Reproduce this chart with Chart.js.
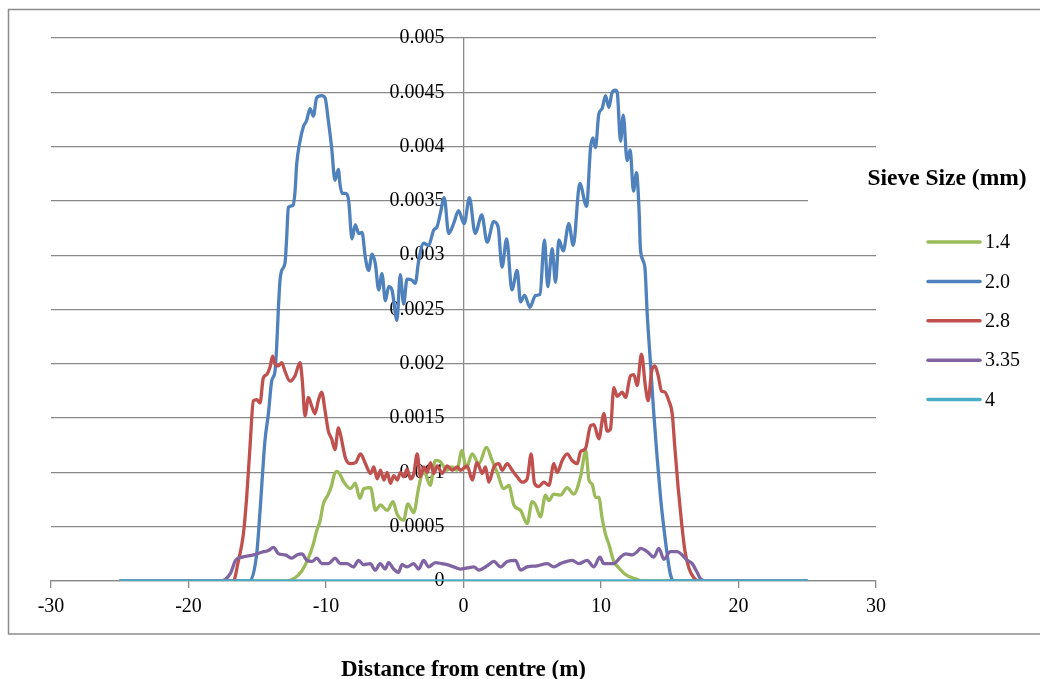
<!DOCTYPE html>
<html>
<head>
<meta charset="utf-8">
<script src="https://cdn.jsdelivr.net/npm/chart.js@4.4.1/dist/chart.umd.min.js"></script>
<style>
  html, body { margin: 0; padding: 0; background: #fff; }
  #wrap { width: 1040px; height: 679px; }
</style>
</head>
<body>
<div id="wrap"><canvas id="grafico" width="1040" height="679"></canvas></div>
<script>
// Séries (distância em m, fração)
const nomes = ['1.4', '2.0', '2.8', '3.35', '4'];
const cores = ['#9bbb59', '#4f81bd', '#c0504d', '#8064a2', '#4bacc6'];
const tituloLegenda = 'Sieve Size (mm)';
const tituloX = 'Distance from centre (m)';
const xTicks = [-30, -20, -10, 0, 10, 20, 30];
const yTicks = ['0', '0.0005', '0.001', '0.0015', '0.002', '0.0025', '0.003', '0.0035', '0.004', '0.0045', '0.005'];

// 1.4 mm
const d14 = [-25, -20, -12.86, -12.25, -11.77, -11.28, -10.92, -10.68, -10.44, -10.19,
  -9.83, -9.59, -9.4, -9.19, -8.98, -8.7, -8.22, -7.87, -7.54, -7.25,
  -6.76, -6.4, -6.04, -5.55, -5.12, -4.84, -4.35, -4.05, -3.62, -3.26,
  -2.9, -2.42, -2.05, -1.69, -1.21, -0.85, -0.48, -0.12, 0.2, 0.63,
  1.12, 1.67, 2.08, 2.45, 2.93, 3.3, 3.66, 4.15, 4.63, 4.99,
  5.24, 5.6, 5.96, 6.21, 6.57, 7.05, 7.54, 8.02, 8.51, 8.9,
  9.12, 9.36, 9.6, 9.84, 10.08, 10.33, 10.57, 10.93, 11.3, 11.78,
  12.51, 13, 20, 25];
const v14 = [0, 0, 0, 0.00003, 0.00009, 0.00021, 0.00034, 0.00046, 0.00055, 0.00071,
  0.0008, 0.00088, 0.00098, 0.00101, 0.00098, 0.00091, 0.00085, 0.0009, 0.00076, 0.00085,
  0.00086, 0.00065, 0.0007, 0.00065, 0.00073, 0.00062, 0.00056, 0.00071, 0.00063, 0.00086,
  0.00102, 0.00088, 0.00111, 0.0011, 0.00102, 0.00105, 0.00102, 0.0012, 0.00104, 0.00117,
  0.00108, 0.00123, 0.00111, 0.001, 0.00085, 0.00088, 0.0007, 0.00065, 0.00053, 0.00073,
  0.0007, 0.00059, 0.00079, 0.00074, 0.0008, 0.00079, 0.00086, 0.0008, 0.00096, 0.0012,
  0.00093, 0.00089, 0.00077, 0.00077, 0.00058, 0.00043, 0.00034, 0.00018, 0.00012, 0.00006,
  0.00002, 0, 0, 0];

// 2.0 mm
const d20 = [-25, -20, -15.55, -15.04, -14.8, -14.44, -14.19, -13.95, -13.71, -13.59,
  -13.47, -13.35, -13.22, -12.98, -12.86, -12.74, -12.38, -12.25, -12.13, -11.89,
  -11.65, -11.41, -11.16, -10.92, -10.68, -10.32, -10.07, -9.83, -9.59, -9.35,
  -9.1, -8.98, -8.83, -8.59, -8.35, -8.11, -7.87, -7.62, -7.38, -7.14,
  -6.9, -6.65, -6.41, -6.17, -5.93, -5.68, -5.44, -5.2, -4.84, -4.6,
  -4.35, -4.11, -3.75, -3.51, -3.26, -2.9, -2.54, -2.17, -1.93, -1.69,
  -1.4, -1.08, -0.72, -0.36, 0.05, 0.43, 0.85, 1.33, 1.72, 2.2,
  2.52, 2.8, 3.14, 3.52, 3.9, 4.15, 4.44, 4.83, 5.24, 5.56,
  5.89, 6.13, 6.45, 6.69, 6.94, 7.25, 7.66, 7.98, 8.46, 8.95,
  9.24, 9.41, 9.6, 9.84, 10.08, 10.33, 10.57, 10.81, 11.05, 11.18,
  11.42, 11.62, 11.9, 12.12, 12.36, 12.58, 12.77, 12.87, 13.19, 13.36,
  13.6, 13.84, 14.08, 14.33, 14.57, 14.81, 15.05, 15.3, 20, 25];
const v20 = [0, 0, 0, 0.00025, 0.00064, 0.00129, 0.00154, 0.00184, 0.00193, 0.00215,
  0.00249, 0.00276, 0.00286, 0.00293, 0.00316, 0.00344, 0.00346, 0.00359, 0.00384, 0.00405,
  0.00418, 0.00424, 0.00435, 0.00428, 0.00445, 0.00447, 0.00445, 0.00424, 0.00399, 0.00369,
  0.00379, 0.00365, 0.00357, 0.00357, 0.0035, 0.00315, 0.00328, 0.0032, 0.00321, 0.00298,
  0.00286, 0.00301, 0.00292, 0.00268, 0.00283, 0.00258, 0.00271, 0.00268, 0.0024, 0.00282,
  0.00255, 0.00278, 0.00277, 0.00274, 0.00295, 0.00311, 0.00309, 0.00323, 0.00326, 0.00338,
  0.00353, 0.0032, 0.00329, 0.00341, 0.00329, 0.00353, 0.0032, 0.00337, 0.00312, 0.00331,
  0.00326, 0.00289, 0.00315, 0.00268, 0.00286, 0.00257, 0.00263, 0.00252, 0.00263, 0.00264,
  0.00314, 0.00271, 0.00306, 0.00275, 0.00314, 0.00304, 0.00329, 0.00309, 0.00366, 0.00345,
  0.00399, 0.00408, 0.00399, 0.0043, 0.00435, 0.00447, 0.00436, 0.0045, 0.00452, 0.0045,
  0.00405, 0.00429, 0.00387, 0.00397, 0.00359, 0.00376, 0.00341, 0.00305, 0.00289, 0.00246,
  0.002, 0.00154, 0.00114, 0.00077, 0.00049, 0.00025, 0.00006, 0, 0, 0];

// 2.8 mm
const d28 = [-25, -20, -16.74, -16.38, -16.01, -15.77, -15.53, -15.28, -15.04, -14.8,
  -14.56, -14.32, -14.07, -13.88, -13.71, -13.47, -13.22, -12.98, -12.62, -12.25,
  -11.89, -11.72, -11.53, -11.28, -11.04, -10.8, -10.56, -10.32, -10.07, -9.83,
  -9.59, -9.35, -9.1, -8.95, -8.58, -8.22, -7.85, -7.49, -7.13, -6.76,
  -6.52, -6.28, -6.04, -5.79, -5.55, -5.31, -5.07, -4.82, -4.58, -4.34,
  -4.1, -3.85, -3.61, -3.37, -3.13, -2.88, -2.64, -2.4, -2.16, -1.91,
  -1.55, -1.19, -0.82, -0.46, -0.22, 0.27, 0.63, 0.99, 1.36, 1.6,
  1.84, 2.21, 2.57, 2.81, 3.18, 3.54, 3.9, 4.27, 4.63, 4.92,
  5.16, 5.48, 5.84, 6.21, 6.57, 6.81, 7.18, 7.54, 7.9, 8.27,
  8.51, 8.87, 9.24, 9.48, 9.84, 10.21, 10.45, 10.69, 10.93, 11.18,
  11.54, 11.78, 12.15, 12.39, 12.63, 12.94, 13.24, 13.43, 13.68, 13.92,
  14.16, 14.4, 14.64, 14.93, 15.18, 15.37, 15.61, 15.85, 16.1, 16.39,
  16.75, 17.1, 20, 25];
const v28 = [0, 0, 0, 0.00018, 0.00043, 0.00077, 0.00123, 0.00166, 0.00167, 0.00164,
  0.00187, 0.0019, 0.00197, 0.00207, 0.002, 0.00198, 0.00201, 0.00193, 0.00184, 0.00189,
  0.00201, 0.00184, 0.00152, 0.00169, 0.00161, 0.00154, 0.00166, 0.00174, 0.00157, 0.00138,
  0.00131, 0.00121, 0.00141, 0.00135, 0.00113, 0.00108, 0.00109, 0.00117, 0.00108, 0.00099,
  0.00105, 0.00094, 0.00102, 0.00093, 0.001, 0.0009, 0.00097, 0.00093, 0.001, 0.00096,
  0.00103, 0.00094, 0.00099, 0.00117, 0.00096, 0.00105, 0.001, 0.00109, 0.00099, 0.00106,
  0.00099, 0.00106, 0.00102, 0.00105, 0.00102, 0.00106, 0.00093, 0.00109, 0.00099, 0.00105,
  0.00091, 0.00105, 0.00108, 0.00102, 0.00108, 0.00102, 0.00096, 0.00091, 0.00094, 0.00117,
  0.0009, 0.00087, 0.00091, 0.00088, 0.00108, 0.001, 0.00111, 0.00117, 0.00111, 0.00108,
  0.00119, 0.00122, 0.00143, 0.00144, 0.00131, 0.00154, 0.00138, 0.0014, 0.00178, 0.0017,
  0.00174, 0.00169, 0.00189, 0.0019, 0.0018, 0.00209, 0.00178, 0.00166, 0.00193, 0.00198,
  0.00189, 0.00175, 0.00174, 0.00166, 0.00154, 0.00123, 0.00086, 0.00055, 0.00028, 0.00012,
  0.00003, 0, 0, 0];

// 3.35 mm
const d335 = [-25, -20, -17.67, -16.95, -16.58, -16.1, -15.27, -14.54, -14.18, -13.82,
  -13.45, -12.96, -12.48, -12.12, -11.75, -11.39, -11.03, -10.66, -10.3, -9.82,
  -9.33, -8.97, -8.48, -8, -7.63, -7.27, -6.78, -6.42, -6.06, -5.69,
  -5.45, -5.08, -4.72, -4.48, -4.11, -3.62, -3.26, -2.9, -2.54, -2.05,
  -1.57, -1.21, -0.72, -0.24, 0.27, 0.75, 1.12, 1.72, 2.21, 2.69,
  3.18, 3.78, 4.15, 4.63, 5.36, 6.09, 6.57, 7.05, 7.9, 8.39,
  8.99, 9.48, 9.92, 10.2, 10.93, 11.42, 11.78, 12.27, 12.63, 12.87,
  13.36, 13.84, 14.21, 14.57, 15.05, 15.54, 15.9, 16.27, 16.63, 16.99,
  17.24, 17.72, 20, 25];
const v335 = [0, 0, 0, 0.00007, 0.00019, 0.00022, 0.00024, 0.00027, 0.00028, 0.00031,
  0.00025, 0.00024, 0.00021, 0.00024, 0.00025, 0.00019, 0.00018, 0.00021, 0.00016, 0.00016,
  0.00021, 0.00016, 0.00016, 0.00013, 0.00019, 0.00015, 0.00016, 0.0001, 0.00016, 0.00011,
  0.00017, 0.00011, 0.00008, 0.00015, 0.00013, 0.00016, 0.00011, 0.00019, 0.00013, 0.00017,
  0.00016, 0.00015, 0.00013, 0.00011, 0.00012, 0.00013, 0.0001, 0.00014, 0.00018, 0.00013,
  0.00018, 0.00019, 0.0001, 0.00013, 0.00014, 0.00016, 0.00013, 0.00016, 0.00019, 0.00016,
  0.00019, 0.00013, 0.00022, 0.00016, 0.00016, 0.00022, 0.00025, 0.00024, 0.00027, 0.0003,
  0.00027, 0.00022, 0.0003, 0.0002, 0.00027, 0.00027, 0.00024, 0.00019, 0.00016, 0.00008,
  0.00002, 0, 0, 0];

// 4 mm
const d4 = [-25, 25];
const v4 = [0, 0];

const distancias = [d14, d20, d28, d335, d4];
const valores = [v14, v20, v28, v335, v4];

const cinza = '#898989';
const fonte = '"Liberation Serif", "Times New Roman", serif';

const datasets = nomes.map((nome, i) => ({
  label: nome,
  data: distancias[i].map((x, j) => ({ x: x, y: valores[i][j] })),
  borderColor: cores[i],
  backgroundColor: cores[i],
  borderWidth: i === 4 ? 3.6 : 3.3,
  pointRadius: 0,
  cubicInterpolationMode: 'monotone',
  fill: false,
  order: nomes.length - i
}));

// Moldura, fundo e legenda desenhada à mão
const moldura = {
  id: 'moldura',
  beforeDraw(chart) {
    const c = chart.ctx;
    c.save();
    c.fillStyle = '#fff';
    c.fillRect(0, 0, chart.width, chart.height);
    c.strokeStyle = '#8c8c8c';
    c.lineWidth = 1.5;
    c.strokeRect(8.5, 9.5, chart.width + 20, 624.5);
    c.restore();
  },
  afterDraw(chart) {
    const c = chart.ctx;
    c.save();
    c.fillStyle = '#fff';
    c.fillRect(808, 162, 72, 48);
    c.fillStyle = '#000';
    c.font = 'bold 23.5px ' + fonte;
    c.textAlign = 'center';
    c.textBaseline = 'middle';
    c.fillText(tituloLegenda, 947, 179);
    c.font = '20px ' + fonte;
    c.textAlign = 'left';
    c.lineCap = 'round';
    c.lineWidth = 3.5;
    nomes.forEach((nome, i) => {
      const y = 242 + i * 39.4;
      c.strokeStyle = cores[i];
      c.beginPath();
      c.moveTo(928, y);
      c.lineTo(980, y);
      c.stroke();
      c.fillStyle = '#000';
      c.fillText(nome, 985, y + 1);
    });
    c.restore();
  }
};

const ctx = document.getElementById('grafico').getContext('2d');
window.graficoInstance = new Chart(ctx, {
  type: 'line',
  data: { datasets: datasets },
  plugins: [moldura],
  options: {
    responsive: false,
    animation: false,
    layout: { padding: { left: 51, right: 164, top: 38, bottom: 0 } },
    plugins: {
      legend: { display: false },
      tooltip: { enabled: false }
    },
    scales: {
      x: {
        type: 'linear',
        min: xTicks[0],
        max: xTicks[xTicks.length - 1],
        afterBuildTicks: s => { s.ticks = xTicks.map(v => ({ value: v })); },
        afterFit: s => { s.height = 98; },
        ticks: {
          color: '#000',
          font: { family: fonte, size: 20 },
          padding: 7,
          maxRotation: 0,
          autoSkip: false
        },
        grid: {
          drawOnChartArea: true,
          color: c => (c.tick && c.tick.value === 0 ? cinza : 'rgba(0,0,0,0)'),
          tickColor: cinza,
          tickLength: 7,
          lineWidth: 1.3
        },
        border: { color: cinza, width: 1.3 },
        title: {
          display: true,
          text: tituloX,
          color: '#000',
          font: { family: fonte, size: 23, weight: 'bold', lineHeight: 0.75 },
          padding: { top: 0, bottom: 0 }
        }
      },
      y: {
        type: 'linear',
        position: { x: -1.38 },
        min: 0,
        max: 0.005,
        afterBuildTicks: s => { s.ticks = yTicks.map(t => ({ value: Number(t) })); },
        ticks: {
          color: '#000',
          font: { family: fonte, size: 20 },
          padding: 0,
          callback: (v, i) => yTicks[i]
        },
        grid: { color: cinza, lineWidth: 1.3, drawTicks: false },
        border: { display: false }
      }
    }
  }
});
</script>
</body>
</html>
